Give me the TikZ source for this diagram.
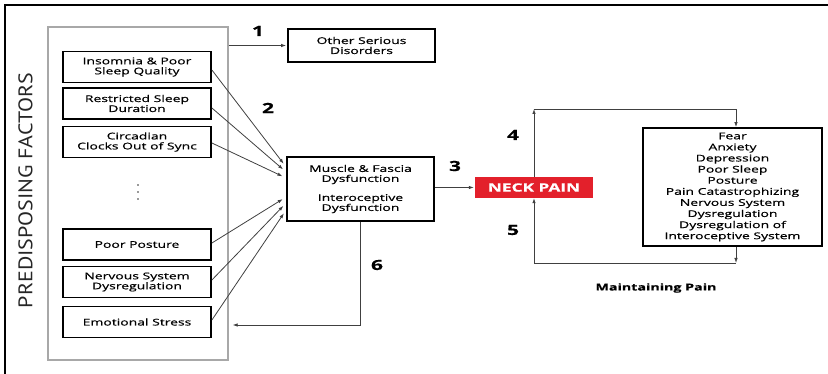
\documentclass[tikz,border=0pt]{standalone}
\usepackage{fontspec}
\setmainfont{Open Sans}[FakeStretch=1.5,FakeBold=0.6]
\newfontfamily\pdfont{PT Sans}
\usetikzlibrary{arrows.meta,calc}
\definecolor{neckred}{HTML}{E3202B}
\definecolor{framegray}{HTML}{A8A8A8}
\begin{document}
\begin{tikzpicture}[x=1pt,y=-1pt,
  factor/.style={draw=black,line width=1.8pt,minimum width=148pt,minimum height=31pt,inner sep=1pt,align=center,font=\fontsize{9.3}{10}\selectfont},
  bigbox/.style={draw=black,line width=1.8pt,inner sep=1pt,align=center,font=\fontsize{9.3}{10}\selectfont},
  conn/.style={draw=black!75,line width=0.8pt},
  tip/.style={-{Latex[length=5pt,width=3.5pt]}},
  dot/.style={circle,fill=black!80,inner sep=0pt,minimum size=1.8pt},
  num/.style={font=\fontsize{14}{14}\selectfont\bfseries}]
\useasboundingbox (0,0) rectangle (828,374);
% outer frame (top and left edges visible)
\draw[line width=1.6pt] (5,374) -- (5,5) -- (828,5);
% predisposing group
\node[draw=framegray,line width=1.3pt,minimum width=180pt,minimum height=333pt,inner sep=0pt] (pf) at (138,193.5) {};
\node[rotate=90,inner sep=0pt,text=black!85] (pflabel) at (25.5,190.5) {\resizebox{235pt}{14pt}{\pdfont PREDISPOSING FACTORS}};
% factor boxes
\node[factor] (f1) at (137,67) {Insomnia \& Poor\\Sleep Quality};
\node[factor] (f2) at (137,103.5) {Restricted Sleep\\Duration};
\node[factor] (f3) at (137,142) {Circadian\\Clocks Out of Sync};
\node[dot] (d1) at (138,185) {};
\node[dot] (d2) at (138,192) {};
\node[dot] (d3) at (138,199) {};
\node[factor] (f4) at (137,244.5) {Poor Posture};
\node[factor] (f5) at (137,282) {Nervous System\\Dysregulation};
\node[factor] (f6) at (137,322) {Emotional Stress};
% other boxes
\node[bigbox,minimum width=147pt,minimum height=33pt] (other) at (361.5,45.5) {Other Serious\\Disorders};
\node[bigbox,minimum width=147pt,minimum height=64pt] (mf) at (360.5,189) {Muscle \& Fascia\\Dysfunction\\[9pt]Interoceptive\\Dysfunction};
\node[fill=neckred,minimum width=118pt,minimum height=21pt,inner sep=0pt,text=white,font=\fontsize{11.5}{12}\selectfont\bfseries] (neck) at (534,187.5) {NECK PAIN};
\node[bigbox,minimum width=179pt,minimum height=118pt,font=\fontsize{9.3}{11.1}\selectfont] (rb) at (732.5,187) {Fear\\Anxiety\\Depression\\Poor Sleep\\Posture\\Pain Catastrophizing\\Nervous System\\Dysregulation\\Dysregulation of\\Interoceptive System};
\node[font=\fontsize{9.5}{10}\selectfont\bfseries] (mp) at (656,288) {Maintaining Pain};
% labels
\node[num] (n1) at (258,31) {1};
\node[num] (n2) at (268,108) {2};
\node[num] (n3) at (455,166) {3};
\node[num] (n4) at (513,135) {4};
\node[num] (n5) at (513,230) {5};
\node[num] (n6) at (377,265) {6};
% coordinates
\coordinate (c6) at (360.5,325);
\coordinate (t1) at (534,109);
\coordinate (t2) at (736,109);
\coordinate (b1) at (736,263);
\coordinate (b2) at (534,263);
% connectors
\draw[conn,tip,shorten >=1pt] (pf.east |- other.west) -- (other.west);
\draw[conn,tip,shorten >=4pt] ($(f1.east)+(0,3)$) -- ($(mf.west)+(0,-22)$);
\draw[conn,tip,shorten >=4pt] ($(f2.east)+(0,4.5)$) -- ($(mf.west)+(0,-17)$);
\draw[conn,tip,shorten >=4pt] ($(f3.east)+(0,1)$) -- ($(mf.west)+(0,-11)$);
\draw[conn,tip,shorten >=4pt] ($(f4.east)+(0,-1.5)$) -- ($(mf.west)+(0,8)$);
\draw[conn,tip,shorten >=4pt] ($(f5.east)+(0,-2)$) -- ($(mf.west)+(0,14)$);
\draw[conn,tip,shorten >=4pt] ($(f6.east)+(0,-2)$) -- ($(mf.west)+(0,21)$);
\draw[conn,tip,shorten >=1pt] (mf.east |- neck.west) -- (neck.west);
\draw[conn,tip,shorten >=4pt] (mf.south) -- (c6) -- (pf.east |- c6);
\draw[conn,tip] (neck.north) -- (t1);
\draw[conn,tip] (t1) -- (t2) -- (rb.north -| t2);
\draw[conn,tip] (rb.south -| b1) -- (b1);
\draw[conn,tip] (b1) -- (b2) -- (neck.south);
\end{tikzpicture}
\end{document}
